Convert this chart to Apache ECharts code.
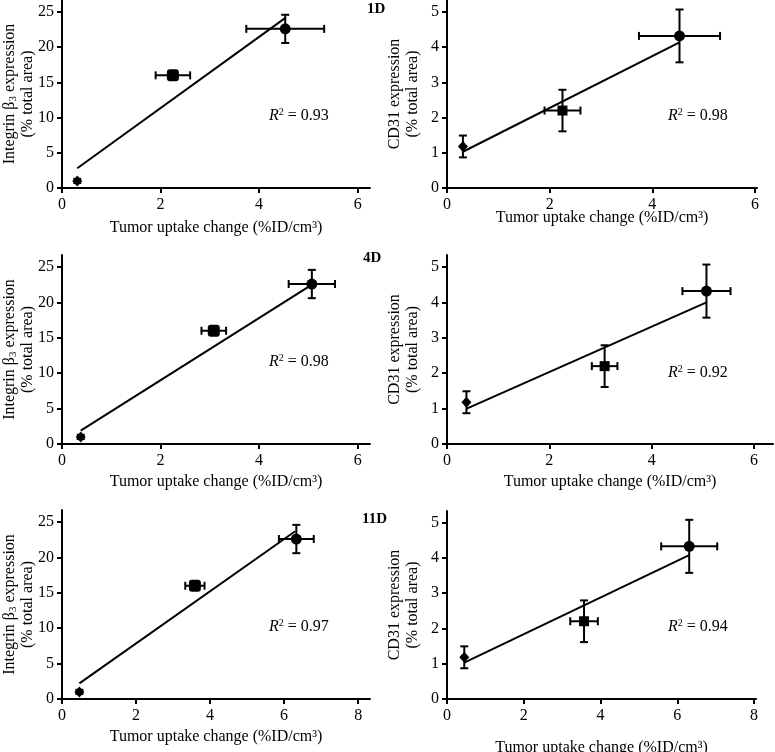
<!DOCTYPE html>
<html><head><meta charset="utf-8">
<script src="https://cdn.jsdelivr.net/npm/echarts@6/dist/echarts.min.js"></script>
<style>html,body{margin:0;padding:0;background:#fff}#c{width:775px;height:752px}</style>
</head><body><div id="c"></div>
<script>
// ---- data ----
const dayLabels = ['1D', '4D', '11D'];
const pointSymbols = ['diamond', 'rect', 'circle'];

const integrinY = [1.0, 16.0, 22.6];
const integrinYErr = [0.3, 0.5, 2.0];
const cd31Y = [1.18, 2.2, 4.32];
const cd31YErr = [0.31, 0.59, 0.75];

const uptake1D = [0.31, 2.25, 4.53];
const uptake1DErr = [0, 0.35, 0.79];
const uptake4D = [0.38, 3.08, 5.07];
const uptake4DErr = [0, 0.25, 0.47];
const uptake11DInt = [0.47, 3.59, 6.33];
const uptake11DIntErr = [0, 0.26, 0.47];
const uptake11DCd = [0.45, 3.57, 6.31];
const uptake11DCdErr = [0, 0.36, 0.73];

const fit1DInt = [[0.31, 2.8], [4.54, 24.2]];
const fit1DCd = [[0.31, 1.03], [4.52, 4.13]];
const fit4DInt = [[0.38, 1.9], [5.08, 22.55]];
const fit4DCd = [[0.385, 1.0], [5.07, 4.0]];
const fit11DInt = [[0.47, 2.2], [6.3, 23.7]];
const fit11DCd = [[0.45, 1.03], [6.31, 4.07]];

const r2Values = ['0.93', '0.98', '0.98', '0.92', '0.97', '0.94'];

const xTicks6 = [0, 2, 4, 6];
const xTicks8 = [0, 2, 4, 6, 8];
const yTicksInt = [0, 5, 10, 15, 20, 25];
const yTicksCd = [0, 1, 2, 3, 4, 5];
const xAxisMax = [6.25, 6.04, 6.25, 6.37, 8.32, 8.05];
const yAxisMax = [26.7, 5.34, 26.7, 5.34, 26.7, 5.32];

const xName = 'Tumor uptake change (%ID/cm\u00B3)';
const yNameInt = '{n|Integrin \u03B2}{s|3}{n| expression}\n{n|(% total area)}';
const yNameCd = '{n|CD31 expression}\n{n|(% total area)}';

// ---- panel assembly ----
const panelX = [uptake1D, uptake1D, uptake4D, uptake4D, uptake11DInt, uptake11DCd];
const panelXErr = [uptake1DErr, uptake1DErr, uptake4DErr, uptake4DErr, uptake11DIntErr, uptake11DCdErr];
const panelY = [integrinY, cd31Y, integrinY, cd31Y, integrinY, cd31Y];
const panelYErr = [integrinYErr, cd31YErr, integrinYErr, cd31YErr, integrinYErr, cd31YErr];
const panelFit = [fit1DInt, fit1DCd, fit4DInt, fit4DCd, fit11DInt, fit11DCd];
const panelXTicks = [xTicks6, xTicks6, xTicks6, xTicks6, xTicks8, xTicks8];
const panelYTicks = [yTicksInt, yTicksCd, yTicksInt, yTicksCd, yTicksInt, yTicksCd];
const panelYName = [yNameInt, yNameCd, yNameInt, yNameCd, yNameInt, yNameCd];

const layout = [
  {left: 62, top: 0, width: 308, height: 188, xGap: 32, r2: [269, 116], day: [367, 10]},
  {left: 447, top: 0, width: 310, height: 188, xGap: 22, r2: [668, 116]},
  {left: 62, top: 255, width: 308, height: 189, xGap: 30, r2: [269, 362], day: [363, 259]},
  {left: 447, top: 255, width: 326, height: 189, xGap: 30, r2: [668, 373]},
  {left: 62, top: 510, width: 308, height: 189, xGap: 30, r2: [269, 627], day: [362, 520]},
  {left: 447, top: 511, width: 309, height: 188, xGap: 41, r2: [668, 627]}
];

const FONT = '"Liberation Serif", "DejaVu Serif", serif';
const BLACK = '#000';

function renderErr(params, api) {
  const x = api.value(0), y = api.value(1), xe = api.value(2), ye = api.value(3);
  const st = {stroke: BLACK, lineWidth: 2, fill: null};
  const cap = 4;
  const ch = [];
  if (xe > 0) {
    const l = api.coord([x - xe, y]), r = api.coord([x + xe, y]);
    ch.push({type: 'line', shape: {x1: l[0], y1: l[1], x2: r[0], y2: r[1]}, style: st});
    ch.push({type: 'line', shape: {x1: l[0], y1: l[1] - cap, x2: l[0], y2: l[1] + cap}, style: st});
    ch.push({type: 'line', shape: {x1: r[0], y1: r[1] - cap, x2: r[0], y2: r[1] + cap}, style: st});
  }
  if (ye > 0) {
    const b = api.coord([x, y - ye]), t = api.coord([x, y + ye]);
    ch.push({type: 'line', shape: {x1: b[0], y1: b[1], x2: t[0], y2: t[1]}, style: st});
    ch.push({type: 'line', shape: {x1: b[0] - cap, y1: b[1], x2: b[0] + cap, y2: b[1]}, style: st});
    ch.push({type: 'line', shape: {x1: t[0] - cap, y1: t[1], x2: t[0] + cap, y2: t[1]}, style: st});
  }
  return {type: 'group', children: ch};
}

const grids = [], xAxes = [], yAxes = [], series = [], graphics = [];

layout.forEach((L, i) => {
  grids.push({left: L.left, top: L.top, width: L.width, height: L.height,
    containLabel: false, outerBoundsMode: 'none'});
  const axisLine = {show: true, onZero: false, lineStyle: {color: BLACK, width: 2}};
  xAxes.push({
    type: 'value', gridIndex: i, min: 0, max: xAxisMax[i],
    axisLine: axisLine,
    axisTick: {show: true, customValues: panelXTicks[i], length: 5, lineStyle: {color: BLACK, width: 2}},
    axisLabel: {customValues: panelXTicks[i], color: BLACK, fontFamily: FONT, fontSize: 16, margin: 9},
    splitLine: {show: false},
    name: xName, nameLocation: 'middle', nameGap: L.xGap, nameMoveOverlap: false,
    nameTextStyle: {color: BLACK, fontFamily: FONT, fontSize: 16}
  });
  yAxes.push({
    type: 'value', gridIndex: i, min: 0, max: yAxisMax[i],
    axisLine: axisLine,
    axisTick: {show: true, customValues: panelYTicks[i], length: 5, lineStyle: {color: BLACK, width: 2}},
    axisLabel: {customValues: panelYTicks[i], color: BLACK, fontFamily: FONT, fontSize: 16, margin: 8},
    splitLine: {show: false},
    name: panelYName[i], nameLocation: 'middle', nameGap: 25, nameRotate: 90, nameMoveOverlap: false,
    nameTextStyle: {
      color: BLACK, fontFamily: FONT, fontSize: 16, lineHeight: 18,
      rich: {
        n: {fontFamily: FONT, fontSize: 16, lineHeight: 18, color: BLACK},
        s: {fontFamily: FONT, fontSize: 11, lineHeight: 18, verticalAlign: 'bottom', color: BLACK, padding: [6, 0, 0, 0]}
      }
    }
  });

  series.push({
    type: 'line', xAxisIndex: i, yAxisIndex: i, data: panelFit[i],
    symbol: 'none', lineStyle: {color: BLACK, width: 2}, silent: true, z: 2, animation: false
  });
  const errData = panelX[i].map((x, k) => [x, panelY[i][k], panelXErr[i][k], panelYErr[i][k]]);
  series.push({
    type: 'custom', xAxisIndex: i, yAxisIndex: i, data: errData,
    renderItem: renderErr, encode: {x: 0, y: 1}, z: 3, animation: false, silent: true
  });
  const isInt = (i % 2 === 0);
  const ptData = panelX[i].map((x, k) => ({
    value: [x, panelY[i][k]],
    symbol: (isInt && k === 1) ? 'roundRect' : pointSymbols[k],
    symbolSize: k === 0 ? [10, 11] : (k === 1 ? (isInt ? 12 : 10) : 11)
  }));
  series.push({
    type: 'scatter', xAxisIndex: i, yAxisIndex: i, data: ptData,
    itemStyle: {color: BLACK, opacity: 1}, z: 4, animation: false, silent: true
  });

  graphics.push({
    type: 'text', left: L.r2[0], top: L.r2[1] - 9,
    style: {
      text: '{i|R}{s|2}{n| = ' + r2Values[i] + '}',
      rich: {
        i: {fontFamily: FONT, fontSize: 16, fontStyle: 'italic', fill: BLACK, lineHeight: 18},
        s: {fontFamily: FONT, fontSize: 10, fill: BLACK, verticalAlign: 'top', lineHeight: 18, padding: [0, 0, 6, 0]},
        n: {fontFamily: FONT, fontSize: 16, fill: BLACK, lineHeight: 18}
      }
    }
  });
  if (L.day) {
    graphics.push({
      type: 'text', left: L.day[0], top: L.day[1] - 8,
      style: {text: dayLabels[Math.floor(i / 2)], fontFamily: FONT, fontSize: 15, fontWeight: 'bold', fill: BLACK}
    });
  }
});

const chart = echarts.init(document.getElementById('c'), null, {renderer: 'canvas'});
chart.setOption({
  backgroundColor: '#fff',
  animation: false,
  grid: grids, xAxis: xAxes, yAxis: yAxes, series: series, graphic: graphics
});
</script></body></html>
